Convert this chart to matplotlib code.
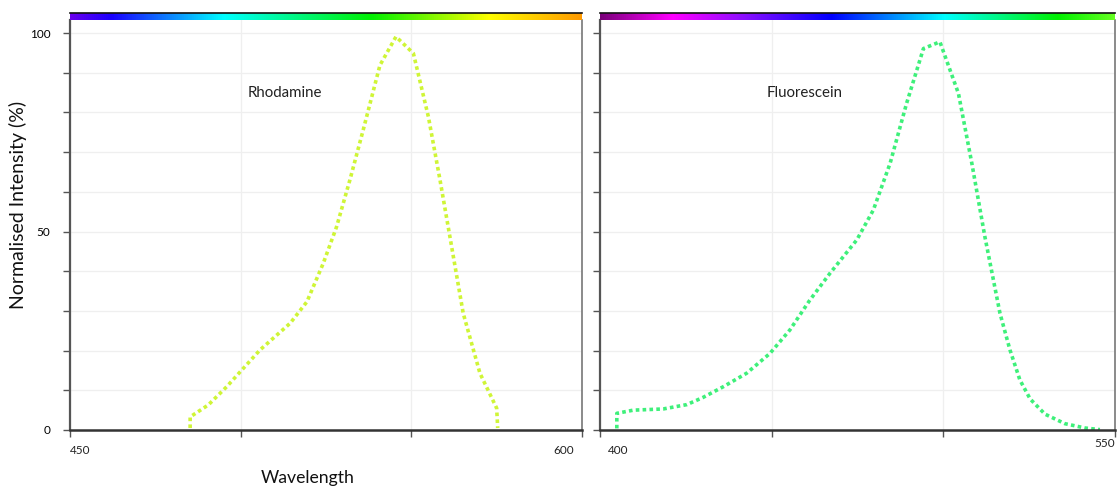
import numpy as np
import matplotlib
matplotlib.use("Agg")
import matplotlib.pyplot as plt
from matplotlib.colors import LinearSegmentedColormap

# ---------------- data ----------------
rhod_wl = [485.2, 485.2, 490.5, 495.9, 505.7, 514.5, 519.4, 524.2, 528.1, 532.0,
           535.9, 540.8, 545.5, 550.6, 555.0, 558.4, 561.3, 565.2, 570.1, 575.0, 575.3]
rhod_int = [0.5, 3.3, 6.3, 10.9, 20.2, 26.9, 32.3, 42.0, 51.2, 63.0,
            75.6, 91.9, 99.1, 94.9, 78.9, 63.0, 48.7, 29.4, 14.3, 5.5, 0.5]

fluo_wl = [404.9, 404.9, 409.7, 418.4, 425.3, 430.0, 435.9, 442.7, 449.5, 455.3,
           461.1, 467.0, 474.8, 479.6, 484.5, 489.3, 494.2, 499.0, 504.4, 508.3,
           512.1, 516.5, 519.4, 522.3, 525.3, 529.6, 535.4, 541.3, 545.6]
fluo_int = [0.4, 4.2, 5.0, 5.3, 6.4, 8.2, 10.9, 14.3, 19.3, 25.2,
            32.7, 39.5, 47.9, 55.4, 67.2, 82.3, 96.1, 97.8, 84.8, 67.2,
            48.7, 29.4, 20.2, 12.6, 7.8, 4.0, 1.6, 0.5, 0.1]

panels = [
    dict(name="Rhodamine", wl=rhod_wl, val=rhod_int, xlim=(450, 600),
         xticks=[450, 500, 550, 600], labels=("450", "600"), color="#cff536",
         name_x=0.42),
    dict(name="Fluorescein", wl=fluo_wl, val=fluo_int, xlim=(400, 550),
         xticks=[400, 450, 500, 550], labels=("400", "550"), color="#3ef07a",
         name_x=0.398),
]
yticks = list(range(0, 101, 10))
ytick_labels = {0: "0", 50: "50", 100: "100"}

# spectrum strips
strip_left = [(0.0, "#6a00ee"), (0.08, "#1a00ff"), (0.30, "#00ffff"),
              (0.59, "#00f000"), (0.82, "#ffff00"), (1.0, "#ff9a00")]
strip_right = [(0.0, "#7a007a"), (0.14, "#ff00ff"), (0.28, "#8a10ff"),
               (0.45, "#0000ff"), (0.67, "#00ffff"), (0.89, "#00f000"), (1.0, "#66ff22")]
strips = [strip_left, strip_right]

# ---------------- figure ----------------
W, H = 1119, 487
fig = plt.figure(figsize=(W / 100, H / 100), dpi=100)
plt.rcParams['font.family'] = ['Lato', 'DejaVu Sans']

def fx(px):
    return px / W

def fy(py):
    return 1 - py / H

boxes = [(70, 582), (600, 1115)]
top_px, bot_px = 20, 430

for i, (p, (x0, x1)) in enumerate(zip(panels, boxes)):
    ax = fig.add_axes([fx(x0), fy(bot_px), fx(x1 - x0), (bot_px - top_px) / H])
    ax.set_xlim(*p["xlim"])
    ax.set_ylim(0, 103.3)
    ax.set_xticks(p["xticks"])
    ax.set_yticks(yticks)
    ax.set_xticklabels([])
    if i == 0:
        ax.set_yticklabels([ytick_labels.get(t, "") for t in yticks], fontsize=8.5)
    else:
        ax.set_yticklabels([])
    ax.tick_params(axis="y", length=5, width=1, color="#555555", pad=9)
    ax.tick_params(axis="x", length=5, width=1, color="#555555")
    ax.grid(True, color="#efefef", linewidth=0.9)
    ax.set_axisbelow(True)
    ax.spines["left"].set_color("#555555")
    ax.spines["left"].set_linewidth(1.6)
    ax.spines["bottom"].set_color("#333333")
    ax.spines["bottom"].set_linewidth(1.8)
    ax.spines["right"].set_color("#777777")
    ax.spines["right"].set_linewidth(1.2)
    ax.spines["top"].set_visible(False)
    ax.plot(p["wl"], p["val"], color=p["color"], linewidth=2.6,
            linestyle=(0, (1, 0.9)), solid_capstyle="butt")
    # panel label
    ax.text(p["name_x"], 0.822, p["name"], transform=ax.transAxes, fontsize=10.8,
            color="#222222", ha="center", va="center")
    # end x labels
    lo, hi = p["labels"]
    ax.text(0.0 if i == 0 else 0.015, -0.05, lo, transform=ax.transAxes,
            fontsize=8.5, ha="left", va="center", color="#222222")
    ax.text(0.985 if i == 0 else 1.0, -0.05 if i == 0 else -0.033, hi,
            transform=ax.transAxes, fontsize=8.5, ha="right", va="center", color="#222222")

    # spectrum strip
    cax = fig.add_axes([fx(x0), fy(top_px), fx(x1 - x0), 7 / H])
    cmap = LinearSegmentedColormap.from_list("s%d" % i, strips[i])
    grad = np.linspace(0, 1, 512).reshape(1, -1)
    cax.imshow(grad, aspect="auto", cmap=cmap, extent=[0, 1, 0, 1])
    cax.set_xticks([])
    cax.set_yticks([])
    for s in ["left", "right", "bottom"]:
        cax.spines[s].set_visible(False)
    cax.spines["top"].set_linewidth(1.2)
    cax.spines["top"].set_color("#111111")

fig.text(fx(18), fy(205), "Normalised Intensity (%)", rotation=90,
         fontsize=14, ha="center", va="center", color="#111111")
fig.text(fx(308), fy(478), "Wavelength", fontsize=12.7, ha="center", va="center",
         color="#111111")

fig.savefig("out.png", dpi=100, facecolor="white")
